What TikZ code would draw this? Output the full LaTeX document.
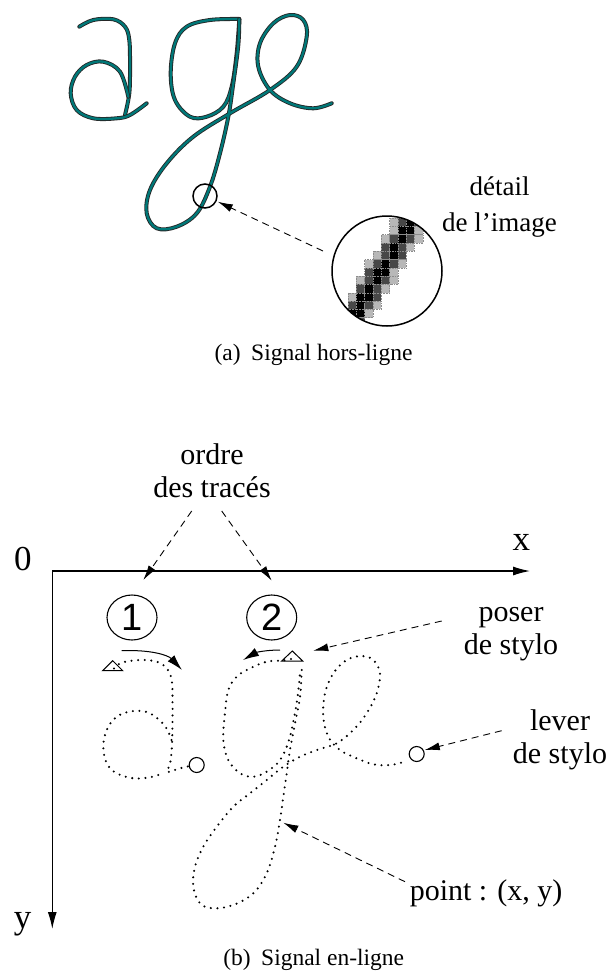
\documentclass[tikz,border=0pt]{standalone}
\usepackage{fontspec}
\setmainfont{Liberation Serif}
\newfontfamily\sansf{Liberation Sans}
\usetikzlibrary{arrows.meta,shapes.geometric}
\definecolor{tealc}{RGB}{0,120,120}
\begin{document}
\begin{tikzpicture}[x=1pt,y=-1pt,
  dasharrow/.style={line width=0.9pt, dash pattern=on 7pt off 5pt, -{Latex[length=15pt,width=8pt]}},
  axisline/.style={line width=1.2pt, -{Latex[length=17pt,width=9pt]}},
  penpath/.style={line width=2.3pt, line cap=round, dash pattern=on 0pt off 6.6pt},
  ink/.style={preaction={draw=black!85, line width=4pt, line cap=round, line join=round}, draw=tealc, line width=2.3pt, line cap=round, line join=round},
  toplbl/.style={font=\fontsize{27}{36.7}\selectfont, align=center, inner sep=0pt},
  lbl/.style={font=\fontsize{30}{33}\selectfont, align=center, inner sep=0pt},
  axlbl/.style={font=\fontsize{35}{40}\selectfont, inner sep=0pt},
  caption/.style={font=\fontsize{23.5}{28}\selectfont, inner sep=0pt},
  numcirc/.style={ellipse, draw, line width=1.1pt, minimum width=50pt, minimum height=45pt, inner sep=0pt, font=\sansf\fontsize{38}{40}\selectfont},
  penup/.style={circle, draw, line width=1.1pt, minimum size=15pt, inner sep=0pt},
  curvarrow/.style={line width=1pt, -{Latex[length=16pt,width=9pt]}}
]
\useasboundingbox (0,0) rectangle (611,979);

% ---------------- (a) off-line signal ----------------
\draw[ink] plot[smooth, tension=0.6] coordinates {(79.3,26.7) (93.3,20) (113.3,19.3) (125,26.7) (129.3,40) (130,66.7) (129.3,93.3) (125,115)};
\draw[ink] plot[smooth, tension=0.6] coordinates {(128.3,96.7) (120,71.7) (103.3,61.7) (86.7,65) (75,76.7) (70.7,93.3) (76.7,110) (93.3,118.3) (116.7,118.3) (130,115) (146.7,103.3)};
\draw[ink] plot[smooth, tension=0.6] coordinates {(239.3,19) (210,20) (186.7,26.7) (175,43.3) (170.7,73.3) (175,100) (190,116.7) (206.7,116.7) (223.3,106.7) (231.7,86.7) (236.7,53.3) (239.3,19)};
\draw[ink] plot[smooth, tension=0.6] coordinates {(239.3,19) (238.3,45) (233.3,83.3) (228.3,116.7) (220,153.3) (210,186.7) (196.7,213.3) (176.7,226.7) (156.7,228.3) (146.7,213.3) (150,190) (166.7,163.3) (193.3,136.7) (230,113.3) (270,90) (296.7,66.7) (306.7,36.7) (303.3,20) (290,15) (273.3,23.3) (260,43.3) (258.3,66.7) (270,90) (290,103.3) (313.3,108.3) (331.7,103.3)};

\node[circle, draw, line width=1.5pt, minimum size=24pt, inner sep=0pt] (zoomc) at (205,196) {};

\begin{scope}
  \clip (387,271) circle[radius=55];
  \foreach \j in {0,...,12}{
    \foreach \i in {0,...,9}{
      \pgfmathsetmacro{\cy}{218+(\j+0.5)*8.3}
      \pgfmathsetmacro{\cx}{348+(\i+0.5)*8.3}
      \pgfmathsetmacro{\xl}{408.3-(\cy-226.7)*0.6084}
      \pgfmathsetmacro{\dd}{abs(\cx-\xl)/8.3}
      \pgfmathtruncatemacro{\sh}{ifthenelse(\dd<0.65,100,ifthenelse(\dd<1.45,72,ifthenelse(\dd<2.2,28,0)))}
      \ifnum\sh>0
        \fill[black!\sh] (\cx-4.15,\cy-4.15) rectangle ++(8.3,8.3);
        \draw[black!45, line width=0.3pt, dash pattern=on 0.6pt off 1pt] (\cx-4.15,\cy-4.15) rectangle ++(8.3,8.3);
      \fi
    }
  }
\end{scope}
\node[circle, draw, line width=1.5pt, minimum size=110pt, inner sep=0pt] (detail) at (387,271) {};

\node[toplbl] (dlabel) at (499.5,207) {détail\\de l’image};
\coordinate (dstart) at (323,251);
\draw[dasharrow] (dstart) -- (zoomc.east |- 0,201.7) ;

\node[caption] (capa) at (313.5,355) {(a)\hspace{0.45em}Signal hors-ligne};

% ---------------- (b) on-line signal ----------------
\coordinate (O) at (52.3,571);
\coordinate (xend) at (530,571);
\coordinate (yend) at (52.3,929);
\draw[axisline] (O) -- (xend);
\draw[axisline] (O) -- (yend);
\node[axlbl] (zero) at (22.8,558.7) {0};
\node[axlbl] (xl) at (521.3,542) {x};
\node[axlbl] (yl) at (22.5,924.5) {y};

\node[lbl] (ordre) at (212,470.7) {ordre\\des tracés};
\coordinate (o1s) at (191.7,511);
\coordinate (o1e) at (143.3,580);
\coordinate (o2s) at (221.7,511);
\coordinate (o2e) at (271.7,580.7);
\draw[dasharrow] (o1s) -- (o1e);
\draw[dasharrow] (o2s) -- (o2e);

\node[numcirc] (n1) at (132,617.5) {1};
\node[numcirc] (n2) at (271.7,617.5) {2};

% pen-down triangles
\coordinate (t1) at (112.7,666);
\coordinate (t2) at (292.3,656);
\draw[line width=1pt] (102.7,670.7) -- (112.7,660.7) -- (122.7,670.7) -- cycle;
\draw[line width=1pt] (281.7,661) -- (292.3,651) -- (302.7,661) -- cycle;

% direction arrows
\coordinate (a1s) at (121.7,650.7);
\coordinate (a1e) at (182,670);
\draw[curvarrow] (a1s) .. controls (150,649.5) and (168,655) .. (a1e);
\coordinate (a2s) at (280,650);
\coordinate (a2e) at (243,660);
\draw[curvarrow] (a2s) .. controls (266,650) and (256,652.5) .. (a2e);

% pen-up circles
\node[penup] (u1) at (196.7,765) {};
\node[penup] (u2) at (416.7,754) {};

% dotted trajectories
\draw[penpath] plot[smooth, tension=0.6] coordinates {(114,668.5) (121.7,662.7) (140,660) (156.7,661.7) (166.7,668.3) (171.7,680) (172.5,697) (172.5,720) (172,745) (170,764) (167,772) (180,768.3) (190,766)};
\draw[penpath] plot[smooth, tension=0.6] coordinates {(171.5,740) (165,726) (150,713.3) (133.3,711) (116.7,716.7) (106.7,730) (103.3,746.7) (106.7,763.3) (116.7,773.3) (133.3,778.3) (150,777.3) (163.3,773.3)};
\draw[penpath] plot[smooth, tension=0.6] coordinates {(291,659) (282,660.5) (266.7,661.7) (250,668.3) (236.7,676.7) (228.3,690) (225,713) (223.3,740) (228.3,760) (240,773.3) (253.3,776.7) (266.7,771.7) (280,760) (289,740) (295.5,710) (299,685) (300,671)};
\draw[penpath] plot[smooth, tension=0.6] coordinates {(301.7,670) (300,696.7) (295,723.3) (290,750) (286.7,773.3) (283.3,796.7) (280,820) (275,846.7) (266.7,873.3) (253.3,893.3) (233.3,905) (213.3,908.3) (200,903.3) (193.3,886.7) (195,866.7) (203.3,846.7) (216.7,826.7) (233.3,806.7) (250,793.3) (266.7,780) (283.3,766.7) (300,756.7) (316.7,750) (336.7,743.3) (353.3,730) (366.7,713.3) (376.7,693.3) (380,673.3) (373.3,660) (361.7,656) (346.7,660) (333.3,673.3) (325,693.3) (323.3,716.7) (328.3,736.7) (340,750) (356.7,758.3) (373.3,764.3) (390,765) (405,761.7)};

% labels on the right
\node[lbl] (poser) at (511,634) {poser\\de stylo};
\coordinate (ps) at (441.7,621);
\coordinate (pe) at (313.3,650.7);
\draw[dasharrow] (ps) -- (pe);

\node[lbl] (lever) at (560,739.7) {lever\\de stylo};
\coordinate (ls) at (501.7,730.7);
\draw[dasharrow] (ls) -- (u2.east |- 0,750);

\node[lbl, anchor=base] (point) at (486,900) {point : (x, y)};
\coordinate (pts) at (405,881.7);
\coordinate (pte) at (283.3,822.7);
\draw[dasharrow] (pts) -- (pte);

\node[caption] (capb) at (313.7,960) {(b)\hspace{0.45em}Signal en-ligne};
\end{tikzpicture}
\end{document}
